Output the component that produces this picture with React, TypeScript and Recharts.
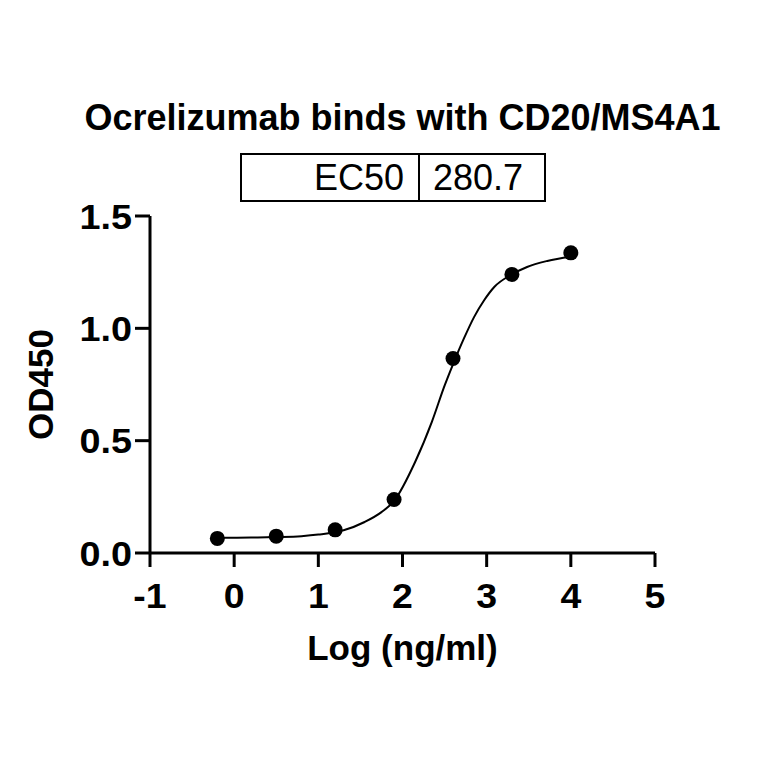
import { ComposedChart, Line, Scatter, XAxis, YAxis } from 'recharts';

// measured points (log ng/ml vs OD450)
const logConc = [-0.2, 0.5, 1.2, 1.9, 2.6, 3.3, 4.0];
const od450 = [0.065, 0.075, 0.103, 0.238, 0.866, 1.24, 1.336];

// fitted curve
const curveX = [-0.2, 0.2, 0.5, 0.8, 1.0, 1.3, 1.55, 1.75, 1.9, 2.15, 2.35, 2.5, 2.6, 2.73, 2.85, 2.97, 3.09, 3.3, 3.48, 3.72, 4.0];
const curveY = [0.068, 0.069, 0.071, 0.075, 0.082, 0.101, 0.138, 0.182, 0.232, 0.405, 0.585, 0.745, 0.84, 0.955, 1.05, 1.125, 1.184, 1.24, 1.273, 1.3, 1.32];

const xTicks = [-1, 0, 1, 2, 3, 4, 5];
const yTicks = [0, 0.5, 1.0, 1.5];

const title = 'Ocrelizumab binds with CD20/MS4A1';
const ec50Label = 'EC50';
const ec50Value = '280.7';

const points = logConc.map((x, i) => ({ x, y: od450[i] }));
const curve = curveX.map((x, i) => ({ x, y: curveY[i] }));

const W = 748;
const H = 748;
const arial = '"Liberation Sans", Arial, sans-serif';

const Dot = (props: any) => <circle cx={props.cx} cy={props.cy} r={7.5} fill="#000" />;

// tick labels in the original are a slightly widened bold Arial
const XTick = ({ x, y, payload }: any) => (
  <text
    transform={`translate(${x}, ${y + 23}) scale(1.07, 1)`}
    textAnchor="middle"
    fontSize={35}
    fontWeight="bold"
    fontFamily={arial}
    fill="#000"
  >
    {payload.value}
  </text>
);

const YTick = ({ x, y, payload }: any) => (
  <text
    transform={`translate(${x}, ${y + 12.5}) scale(1.08, 1)`}
    textAnchor="end"
    fontSize={35}
    fontWeight="bold"
    fontFamily={arial}
    fill="#000"
  >
    {Number(payload.value).toFixed(1)}
  </text>
);

export default function App() {
  return (
    <div style={{ position: 'relative', width: W, height: H, fontFamily: arial }}>
      <ComposedChart width={W} height={H} margin={{ top: 208, right: 101, bottom: 143, left: 12 }}>
        <XAxis
          type="number"
          dataKey="x"
          domain={[-1, 5]}
          ticks={xTicks}
          allowDataOverflow
          height={60}
          axisLine={{ stroke: '#000', strokeWidth: 3 }}
          tickLine={{ stroke: '#000', strokeWidth: 3 }}
          tickSize={14}
          tickMargin={18}
          tick={<XTick />}
          label={({ viewBox }: any) => (
            <text
              x={viewBox.x + viewBox.width / 2}
              y={viewBox.y + 107}
              textAnchor="middle"
              fontSize={35}
              fontWeight="bold"
              fontFamily={arial}
              fill="#000"
            >
              Log (ng/ml)
            </text>
          )}
        />
        <YAxis
          type="number"
          dataKey="y"
          domain={[0, 1.5]}
          ticks={yTicks}
          width={130}
          axisLine={{ stroke: '#000', strokeWidth: 3 }}
          tickLine={{ stroke: '#000', strokeWidth: 3 }}
          tickSize={15}
          tickMargin={3}
          tick={<YTick />}
          label={({ viewBox }: any) => {
            const cx = viewBox.x + 33;
            const cy = viewBox.y + viewBox.height / 2;
            return (
              <text
                x={cx}
                y={cy}
                transform={`rotate(-90, ${cx}, ${cy})`}
                textAnchor="middle"
                fontSize={35}
                fontWeight="bold"
                fontFamily={arial}
                fill="#000"
              >
                OD450
              </text>
            );
          }}
        />
        <Line
          data={curve}
          dataKey="y"
          type="monotone"
          stroke="#000"
          strokeWidth={2}
          dot={false}
          activeDot={false}
          isAnimationActive={false}
        />
        <Scatter data={points} dataKey="y" fill="#000" shape={Dot} isAnimationActive={false} />
      </ComposedChart>

      <svg width={W} height={H} style={{ position: 'absolute', left: 0, top: 0, pointerEvents: 'none' }}>
        <text x={394.5} y={122} textAnchor="middle" fontSize={36} fontWeight="bold" fontFamily={arial} fill="#000">
          {title}
        </text>
        <rect x={233} y={146} width={304} height={47} fill="none" stroke="#000" strokeWidth={2} />
        <line x1={411} y1={146} x2={411} y2={193} stroke="#000" strokeWidth={2} />
        <text x={396} y={182} textAnchor="end" fontSize={36} fontFamily={arial} fill="#000">
          {ec50Label}
        </text>
        <text x={425} y={182} textAnchor="start" fontSize={36} fontFamily={arial} fill="#000">
          {ec50Value}
        </text>
      </svg>
    </div>
  );
}
